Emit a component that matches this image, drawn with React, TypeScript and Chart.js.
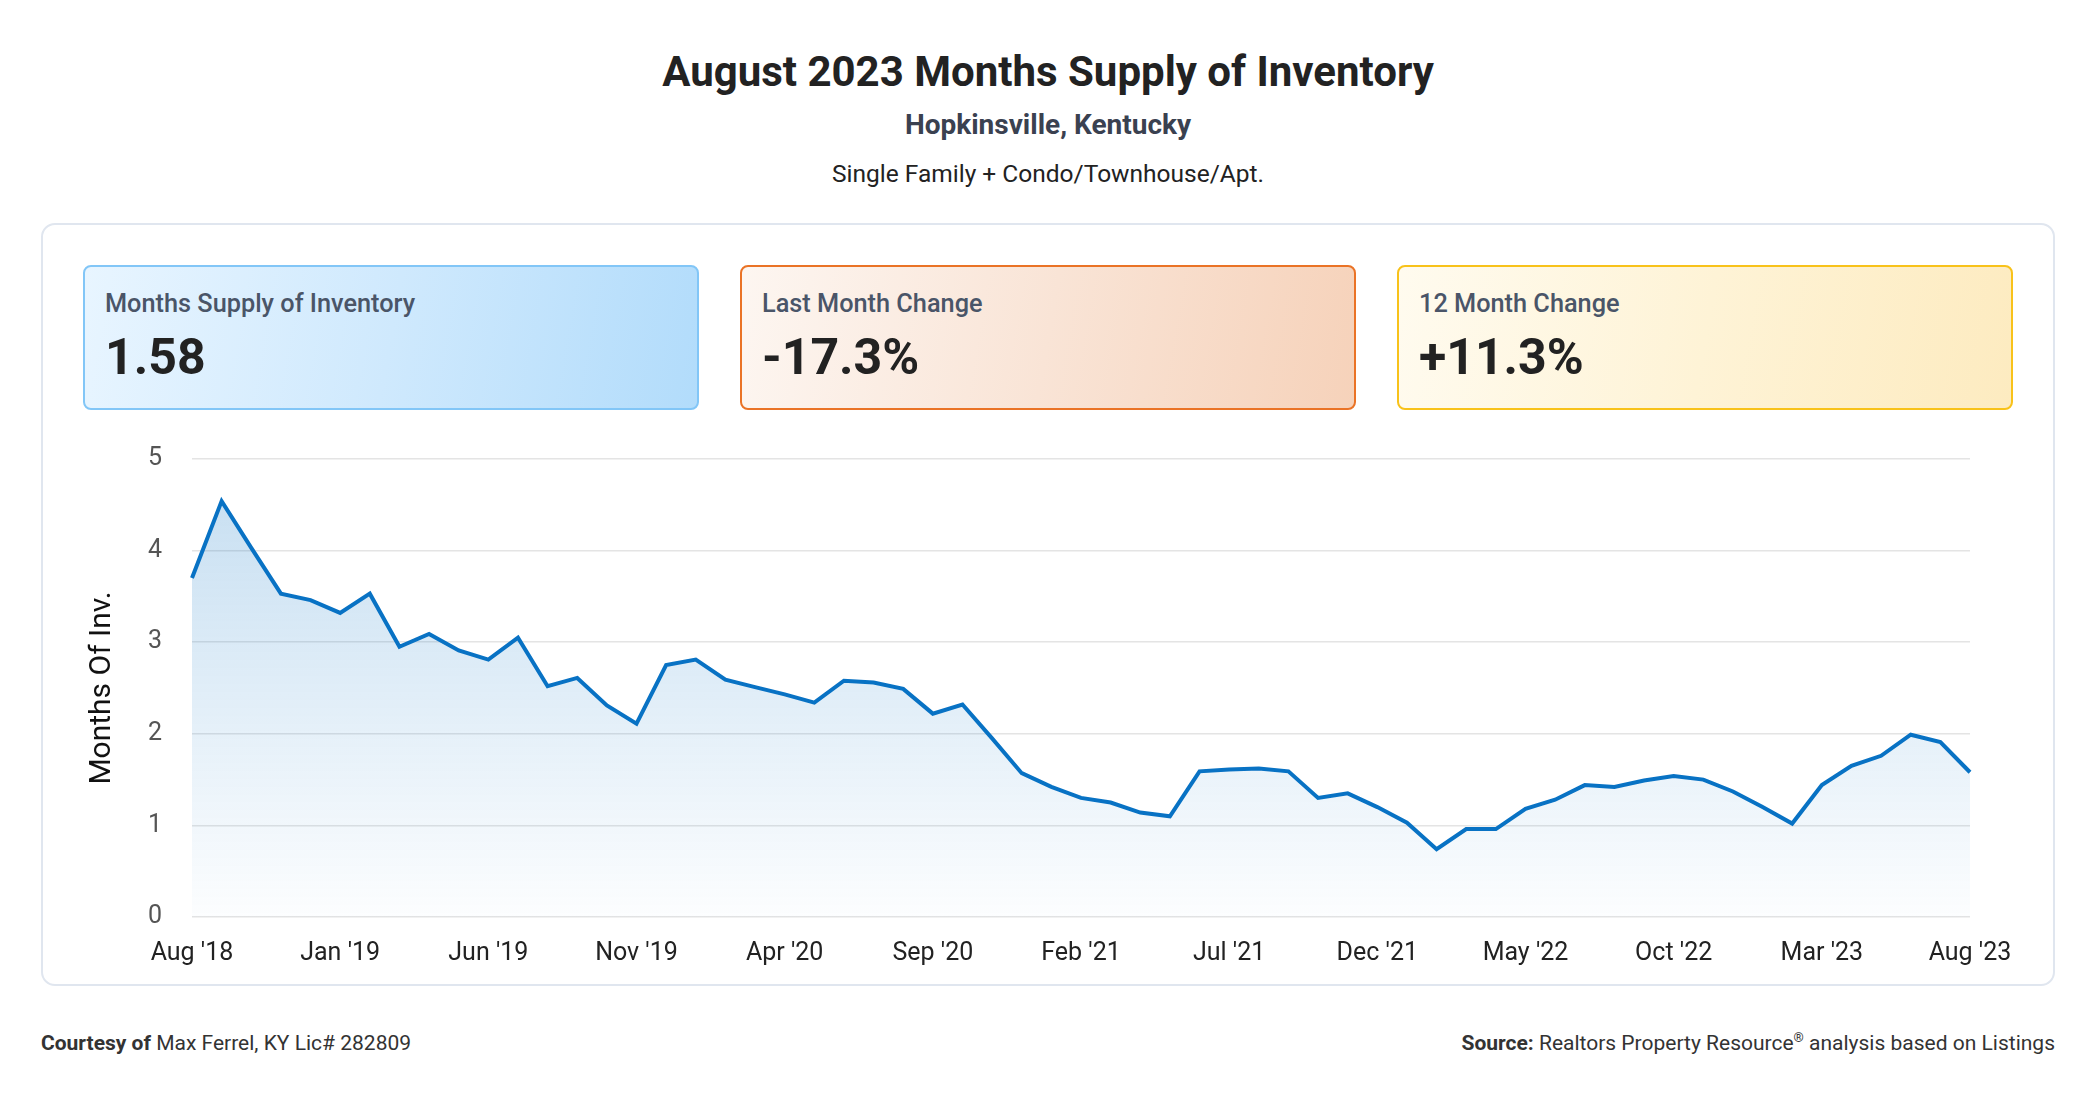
import React, { useEffect, useRef } from "react";
import { Chart, registerables } from "chart.js";

Chart.register(...registerables);

const monthLabels = [
  "Aug '18", "Sep '18", "Oct '18", "Nov '18", "Dec '18",
  "Jan '19", "Feb '19", "Mar '19", "Apr '19", "May '19",
  "Jun '19", "Jul '19", "Aug '19", "Sep '19", "Oct '19",
  "Nov '19", "Dec '19", "Jan '20", "Feb '20", "Mar '20",
  "Apr '20", "May '20", "Jun '20", "Jul '20", "Aug '20",
  "Sep '20", "Oct '20", "Nov '20", "Dec '20", "Jan '21",
  "Feb '21", "Mar '21", "Apr '21", "May '21", "Jun '21",
  "Jul '21", "Aug '21", "Sep '21", "Oct '21", "Nov '21",
  "Dec '21", "Jan '22", "Feb '22", "Mar '22", "Apr '22",
  "May '22", "Jun '22", "Jul '22", "Aug '22", "Sep '22",
  "Oct '22", "Nov '22", "Dec '22", "Jan '23", "Feb '23",
  "Mar '23", "Apr '23", "May '23", "Jun '23", "Jul '23",
  "Aug '23",
];

const monthsSupply = [
  3.70, 4.54, 4.03, 3.53, 3.46, 3.32, 3.53, 2.95, 3.09, 2.91,
  2.81, 3.05, 2.52, 2.61, 2.31, 2.11, 2.75, 2.81, 2.59, 2.51,
  2.43, 2.34, 2.58, 2.56, 2.49, 2.22, 2.32, 1.95, 1.57, 1.42,
  1.30, 1.25, 1.14, 1.10, 1.59, 1.61, 1.62, 1.59, 1.30, 1.35,
  1.20, 1.03, 0.74, 0.96, 0.96, 1.18, 1.28, 1.44, 1.42, 1.49,
  1.54, 1.50, 1.37, 1.20, 1.02, 1.44, 1.65, 1.76, 1.99, 1.91,
  1.58,
];

const yTicks = [0, 1, 2, 3, 4, 5];

const cardTitles = ["Months Supply of Inventory", "Last Month Change", "12 Month Change"];
const cardValues = ["1.58", "-17.3%", "+11.3%"];

const FONT = "Roboto, 'Noto Sans', sans-serif";

const cardStyles = [
  { background: "linear-gradient(100deg, #e8f5ff 0%, #cfe9fd 50%, #b2dcfb 100%)", border: "2px solid #82c6f7" },
  { background: "linear-gradient(100deg, #fdf6f1 0%, #f9e4d6 50%, #f6d2ba 100%)", border: "2px solid #ea7326" },
  { background: "linear-gradient(100deg, #fffbef 0%, #fef3d6 50%, #fdebc0 100%)", border: "2px solid #f8c21a" },
];
const cardLefts = [83, 740, 1397];

function LineChart() {
  const ref = useRef<HTMLCanvasElement | null>(null);
  useEffect(() => {
    if (!ref.current) return;
    const chart = new Chart(ref.current, {
      type: "line",
      data: {
        labels: monthLabels,
        datasets: [
          {
            data: monthsSupply,
            borderColor: "#0872c4",
            borderWidth: 4,
            pointRadius: 0,
            tension: 0,
            fill: "origin",
            backgroundColor: (ctx: any) => {
              const c = ctx.chart;
              const area = c.chartArea;
              if (!area) return "rgba(8,114,196,0.15)";
              const g = c.ctx.createLinearGradient(0, area.top, 0, area.bottom);
              g.addColorStop(0, "rgba(8,114,196,0.24)");
              g.addColorStop(1, "rgba(8,114,196,0.01)");
              return g;
            },
          },
        ],
      },
      options: {
        animation: false,
        responsive: false,
        maintainAspectRatio: false,
        layout: { padding: { top: 11, right: 80, bottom: 0, left: 0 } },
        plugins: { legend: { display: false }, tooltip: { enabled: false } },
        scales: {
          x: {
            grid: { display: false, drawTicks: false },
            border: { display: false },
            ticks: {
              autoSkip: false,
              maxRotation: 0,
              minRotation: 0,
              padding: 22,
              color: "#222222",
              font: { family: FONT, size: 25 },
              callback: (_v: any, i: number) => (i % 5 === 0 ? monthLabels[i] : null),
            },
            afterFit: (s: any) => {
              s.height = 73;
            },
          },
          y: {
            min: yTicks[0],
            max: yTicks[yTicks.length - 1],
            grid: { color: "#e4e4e4", lineWidth: 1.5, drawTicks: false },
            border: { display: false },
            ticks: {
              stepSize: 1,
              padding: 30,
              color: "#555555",
              font: { family: FONT, size: 25 },
            },
            title: {
              display: true,
              text: "Months Of Inv.",
              color: "#111111",
              font: { family: FONT, size: 30 },
              padding: { top: 4, bottom: 0 },
            },
            afterFit: (s: any) => {
              s.width = 112;
            },
          },
        },
      },
    });
    return () => chart.destroy();
  }, []);
  return <canvas ref={ref} width={1970} height={576} style={{ display: "block" }} />;
}

export default function App() {
  return (
    <div
      style={{
        position: "absolute",
        left: 0,
        top: 0,
        width: 2096,
        height: 1100,
        background: "#ffffff",
        fontFamily: FONT,
        overflow: "hidden",
      }}
    >
      <div style={{ position: "absolute", left: 0, width: 2096, top: 44, textAlign: "center", fontSize: 42, fontWeight: 700, color: "#222222", lineHeight: "56px" }}>
        August 2023 Months Supply of Inventory
      </div>
      <div style={{ position: "absolute", left: 0, width: 2096, top: 108, textAlign: "center", fontSize: 28, fontWeight: 700, color: "#3a4150", lineHeight: "34px" }}>
        Hopkinsville, Kentucky
      </div>
      <div style={{ position: "absolute", left: 0, width: 2096, top: 158, textAlign: "center", fontSize: 24.5, fontWeight: 400, color: "#222222", lineHeight: "32px" }}>
        Single Family + Condo/Townhouse/Apt.
      </div>

      <div
        style={{
          position: "absolute",
          left: 41,
          top: 223,
          width: 2014,
          height: 763,
          boxSizing: "border-box",
          border: "2px solid #e0e6ef",
          borderRadius: 14,
        }}
      />

      {cardTitles.map((t, i) => (
        <div
          key={t}
          style={{
            position: "absolute",
            left: cardLefts[i],
            top: 265,
            width: 616,
            height: 145,
            boxSizing: "border-box",
            borderRadius: 8,
            ...cardStyles[i],
          }}
        >
          <div style={{ position: "absolute", left: 20, top: 20, fontSize: 25.3, fontWeight: 500, color: "#4a5568", lineHeight: "34px" }}>{t}</div>
          <div style={{ position: "absolute", left: 20, top: 58, fontSize: 50, fontWeight: 700, color: "#222222", lineHeight: "64px" }}>{cardValues[i]}</div>
        </div>
      ))}

      <div style={{ position: "absolute", left: 80, top: 414 }}>
        <LineChart />
      </div>

      <div style={{ position: "absolute", left: 41, top: 1029, fontSize: 21, color: "#333333", lineHeight: "28px" }}>
        <b>Courtesy of</b> Max Ferrel, KY Lic# 282809
      </div>
      <div style={{ position: "absolute", right: 41, top: 1029, fontSize: 21, color: "#333333", lineHeight: "28px", textAlign: "right" }}>
        <b>Source:</b> Realtors Property Resource<sup style={{ fontSize: 13, lineHeight: 0 }}>®</sup> analysis based on Listings
      </div>
    </div>
  );
}
